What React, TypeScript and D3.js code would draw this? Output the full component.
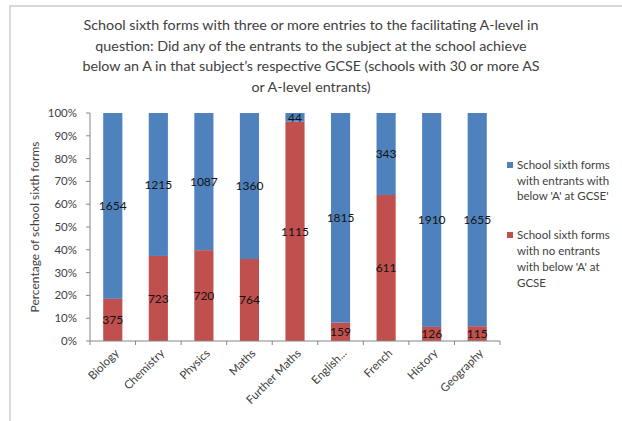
import React from "react";
import * as d3 from "d3";

const categories = ["Biology", "Chemistry", "Physics", "Maths", "Further Maths", "English...", "French", "History", "Geography"];
const noBelowA = [375, 723, 720, 764, 1115, 159, 611, 126, 115];
const withBelowA = [1654, 1215, 1087, 1360, 44, 1815, 343, 1910, 1655];
const yTicks = [0, 0.1, 0.2, 0.3, 0.4, 0.5, 0.6, 0.7, 0.8, 0.9, 1.0];
const titleLines = [
  "School sixth forms with three or more entries to the facilitating A-level in",
  "question: Did any of the entrants to the subject at the school achieve",
  "below an A in that subject\u2019s respective GCSE (schools with 30 or more AS",
  "or A-level entrants)",
];
const legendBlue = ["School sixth forms", "with entrants with", "below 'A' at GCSE'"];
const legendRed = ["School sixth forms", "with no entrants", "with below 'A' at", "GCSE"];

const BLUE = "#4f81bd";
const RED = "#c0504d";
const FONT = "Lato, 'Open Sans', sans-serif";

export default function App() {
  const W = 622, H = 421;
  const left = 90, right = 500, top = 113, bottom = 341;
  const x = d3.scaleBand<string>().domain(categories).range([left, right]).paddingInner(0.58).paddingOuter(0.29);
  const y = d3.scaleLinear().domain([0, 1]).range([bottom, top]);
  const step = x.step();
  const bw = x.bandwidth();
  const fmt = d3.format(".0%");

  return (
    <svg width={W} height={H} style={{ position: "absolute", left: 0, top: 0, background: "#fff" }} fontFamily={FONT}>
      <rect x={0} y={0} width={W} height={H} fill="#fff" />
      <rect x={10} y={6} width={700} height={500} fill="none" stroke="#d9d9d9" strokeWidth={2} />
      {titleLines.map((t, i) => (
        <text key={i} x={311} y={30 + i * 20.5} textAnchor="middle" fontSize={14.3} fill="#404040">{t}</text>
      ))}
      {/* y axis title */}
      <text transform={`translate(35,${(top + bottom) / 2}) rotate(-90)`} textAnchor="middle" fontSize={12} fill="#404040" dy="0.35em">
        Percentage of school sixth forms
      </text>
      {/* y axis */}
      <line x1={left} x2={left} y1={top} y2={bottom} stroke="#868686" />
      {yTicks.map((t) => (
        <g key={t}>
          <line x1={left - 4} x2={left} y1={y(t)} y2={y(t)} stroke="#868686" />
          <text x={77} y={y(t)} dy="0.35em" textAnchor="end" fontSize={11.5} fill="#404040">{fmt(t)}</text>
        </g>
      ))}
      {/* bars */}
      {categories.map((c, i) => {
        const total = noBelowA[i] + withBelowA[i];
        const r = noBelowA[i] / total;
        const x0 = x(c)!;
        const cx = x0 + bw / 2;
        return (
          <g key={c}>
            <rect x={x0} y={y(r)} width={bw} height={y(0) - y(r)} fill={RED} />
            <rect x={x0} y={y(1)} width={bw} height={y(r) - y(1)} fill={BLUE} />
            <text x={cx} y={(y(0) + y(r)) / 2} dy="0.35em" textAnchor="middle" fontSize={12} fill="#111">{noBelowA[i]}</text>
            <text x={cx} y={(y(r) + y(1)) / 2} dy="0.35em" textAnchor="middle" fontSize={12} fill="#111">{withBelowA[i]}</text>
          </g>
        );
      })}
      {/* x axis */}
      <line x1={left} x2={right} y1={bottom} y2={bottom} stroke="#868686" />
      {d3.range(categories.length + 1).map((i) => (
        <line key={i} x1={left + i * step} x2={left + i * step} y1={bottom} y2={bottom + 4} stroke="#868686" />
      ))}
      {categories.map((c) => {
        const cx = x(c)! + bw / 2 + 4;
        return (
          <text key={c} transform={`translate(${cx},${bottom + 10}) rotate(-45)`} textAnchor="end" dy="0.35em" fontSize={11.5} fill="#404040">{c}</text>
        );
      })}
      {/* legend */}
      <rect x={507} y={162} width={6} height={6} fill={BLUE} />
      {legendBlue.map((t, i) => (
        <text key={t} x={517} y={165 + i * 15.5} dy="0.35em" fontSize={11.5} fill="#404040">{t}</text>
      ))}
      <rect x={507} y={232} width={6} height={6} fill={RED} />
      {legendRed.map((t, i) => (
        <text key={t} x={517} y={235 + i * 16} dy="0.35em" fontSize={11.5} fill="#404040">{t}</text>
      ))}
    </svg>
  );
}
